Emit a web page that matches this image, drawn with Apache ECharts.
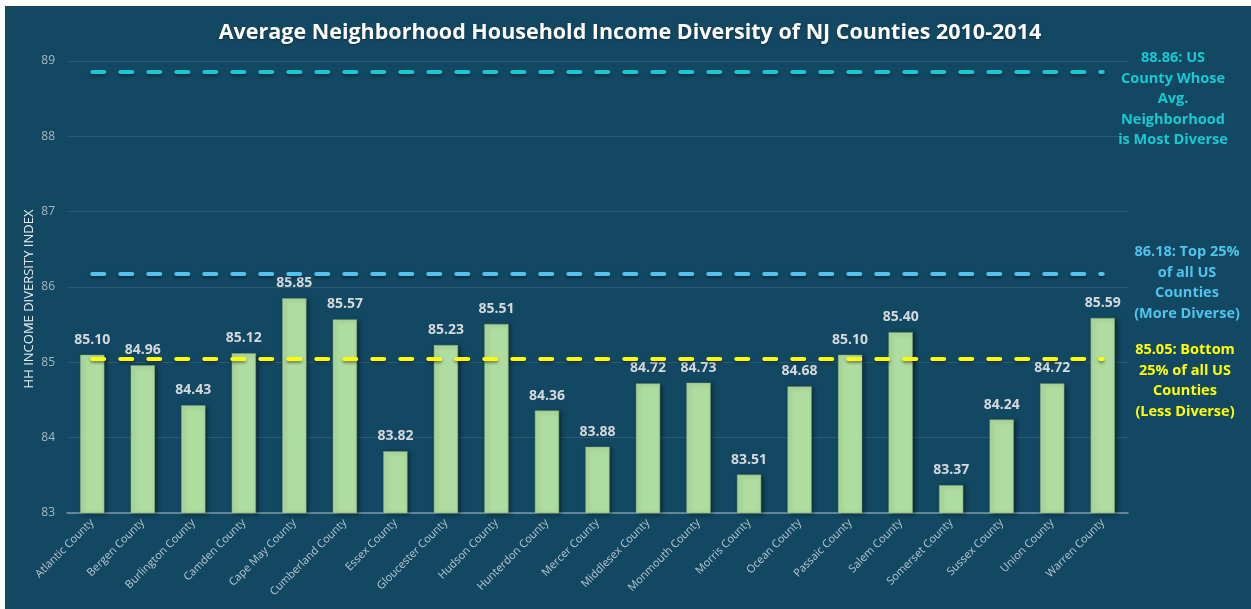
<!DOCTYPE html>
<html>
<head>
<meta charset="utf-8">
<script src="https://cdn.jsdelivr.net/npm/echarts@6/dist/echarts.min.js"></script>
<style>
  html, body { margin: 0; padding: 0; background: #ffffff; }
  #chart { position: absolute; left: 5px; top: 6px; width: 1246px; height: 603px; }
</style>
</head>
<body>
<div id="chart"></div>
<script>
// counties and index values
const counties = [
  'Atlantic County', 'Bergen County', 'Burlington County', 'Camden County', 'Cape May County',
  'Cumberland County', 'Essex County', 'Gloucester County', 'Hudson County', 'Hunterdon County',
  'Mercer County', 'Middlesex County', 'Monmouth County', 'Morris County', 'Ocean County',
  'Passaic County', 'Salem County', 'Somerset County', 'Sussex County', 'Union County', 'Warren County'
];
const diversity = [
  85.10, 84.96, 84.43, 85.12, 85.85,
  85.57, 83.82, 85.23, 85.51, 84.36,
  83.88, 84.72, 84.73, 83.51, 84.68,
  85.10, 85.40, 83.37, 84.24, 84.72, 85.59
];
// reference lines: value, colour, note
const refValues = [88.86, 86.18, 85.05];
const refColors = ['#17c9d3', '#4fc4ef', '#ffff00'];
const refNotes = [
  '88.86: US\nCounty Whose\nAvg.\nNeighborhood\nis Most Diverse',
  '86.18: Top 25%\nof all US\nCounties\n(More Diverse)',
  '85.05: Bottom\n25% of all US\nCounties\n(Less Diverse)'
];
const yTicks = { min: 83, max: 89, interval: 1 };

const bg = '#134862';
const first = counties[0];
const last = counties[counties.length - 1];

let markData = refValues.map((v, i) => [
  { coord: [first, v], lineStyle: { color: refColors[i] } },
  { coord: [last, v] }
]);

// note positions (text blocks right of plot)
const noteTops = [42, 236, 334];
const noteX = [1168, 1182, 1180];

let chart = echarts.init(document.getElementById('chart'));
let option = {
  backgroundColor: bg,
  animation: false,
  title: {
    text: 'Average Neighborhood Household Income Diversity of NJ Counties 2010-2014',
    left: 620,
    textAlign: 'center',
    top: 11,
    textStyle: {
      color: '#ffffff',
      fontFamily: 'Open Sans',
      fontWeight: 'bold',
      fontSize: 21.5,
      textShadowColor: 'rgba(0,0,0,0.4)',
      textShadowBlur: 2,
      textShadowOffsetY: 1
    }
  },
  grid: { left: 62, right: 123, top: 55, bottom: 96 },
  xAxis: {
    type: 'category',
    data: counties,
    axisTick: { show: false },
    axisLine: { lineStyle: { color: '#7f98a8', width: 1.5 } },
    axisLabel: {
      rotate: 45,
      interval: 0,
      color: '#b9c8d2',
      fontFamily: 'Open Sans',
      fontSize: 11,
      margin: 8
    }
  },
  yAxis: {
    type: 'value',
    min: yTicks.min,
    max: yTicks.max,
    interval: yTicks.interval,
    name: 'HH INCOME DIVERSITY INDEX',
    nameLocation: 'middle',
    nameGap: 31,
    nameRotate: 90,
    nameMoveOverlap: false,
    nameTextStyle: { color: '#e6eef2', fontSize: 13, fontFamily: 'Open Sans', padding: [0, 0, 0, -24] },
    axisLabel: { color: '#a9b7c0', fontSize: 12, fontFamily: 'Open Sans', margin: 12 },
    splitLine: { lineStyle: { color: 'rgba(255,255,255,0.1)' } },
    axisLine: { show: false },
    axisTick: { show: false }
  },
  series: [
    {
      type: 'bar',
      data: diversity,
      barWidth: '48%',
      itemStyle: {
        color: '#afdc9f',
        borderColor: '#7fa874',
        borderWidth: 0.5,
        shadowColor: 'rgba(0,0,0,0.45)',
        shadowBlur: 4,
        shadowOffsetX: 2,
        shadowOffsetY: 1
      },
      label: {
        show: true,
        position: 'top',
        distance: 8,
        color: '#d6d9dc',
        fontFamily: 'Open Sans',
        fontWeight: 'bold',
        fontSize: 14,
        formatter: p => p.value.toFixed(2)
      },
      markLine: {
        symbol: 'none',
        silent: true,
        label: { show: false },
        lineStyle: {
          type: [12, 16],
          width: 4,
          cap: 'round',
          shadowColor: 'rgba(0,0,0,0.4)',
          shadowBlur: 3,
          shadowOffsetY: 2
        },
        data: markData
      }
    }
  ],
  graphic: refNotes.map((t, i) => ({
    type: 'text',
    x: noteX[i],
    y: noteTops[i],
    style: {
      text: t,
      fill: refColors[i],
      font: 'bold 14.5px "Open Sans"',
      align: 'center',
      lineHeight: 20.5
    }
  }))
};
chart.setOption(option);
</script>
</body>
</html>
